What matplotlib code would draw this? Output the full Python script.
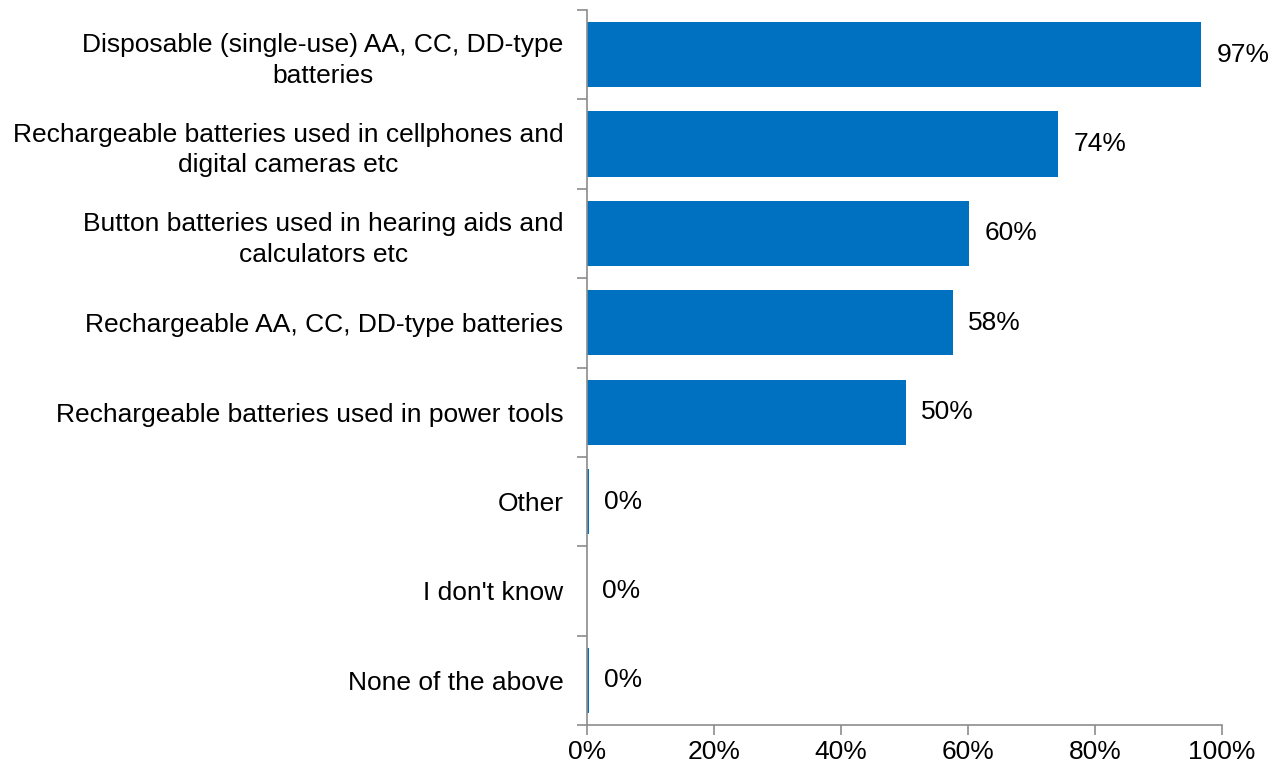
import numpy as np
import matplotlib.pyplot as plt

plt.rcParams['font.family'] = ['Liberation Sans', 'DejaVu Sans']

categories = [
    "Disposable (single-use) AA, CC, DD-type\nbatteries",
    "Rechargeable batteries used in cellphones and\ndigital cameras etc",
    "Button batteries used in hearing aids and\ncalculators etc",
    "Rechargeable AA, CC, DD-type batteries",
    "Rechargeable batteries used in power tools",
    "Other",
    "I don't know",
    "None of the above",
]
values = [96.7, 74.2, 60.2, 57.6, 50.2, 0.3, 0.0, 0.3]
labels = ["97%", "74%", "60%", "58%", "50%", "0%", "0%", "0%"]
xticks = [0, 20, 40, 60, 80, 100]

fs = 19
fig = plt.figure(figsize=(12.84, 7.71), dpi=100)
ax = fig.add_axes([587 / 1284, 1 - 725 / 771, 635 / 1284, 715 / 771])

y = np.arange(len(categories))
ax.barh(y, values, height=0.73, color="#0070C0")
for yi, v, lab in zip(y, values, labels):
    ax.annotate(lab, (v, yi), xytext=(11, 0), textcoords="offset points",
                va="center", ha="left", fontsize=fs, color="black")

ax.set_xlim(0, 100)
ax.set_ylim(len(categories) - 0.5, -0.5)
ax.set_xticks(xticks)
ax.set_xticklabels([f"{t}%" for t in xticks], fontsize=fs)
ax.set_yticks(y)
ax.set_yticklabels(categories, fontsize=fs, multialignment="center", linespacing=1.35)
ax.set_yticks(np.arange(len(categories) + 1) - 0.5, minor=True)

ax.tick_params(axis="y", which="major", length=0, pad=17)
ax.tick_params(axis="y", which="minor", length=7, color="#8c8c8c", width=1.2)
ax.tick_params(axis="x", length=7, color="#8c8c8c", width=1.2, pad=4)

for s in ["top", "right"]:
    ax.spines[s].set_visible(False)
for s in ["left", "bottom"]:
    ax.spines[s].set_color("#8c8c8c")
    ax.spines[s].set_linewidth(1.2)

fig.savefig("out.png", dpi=100)
